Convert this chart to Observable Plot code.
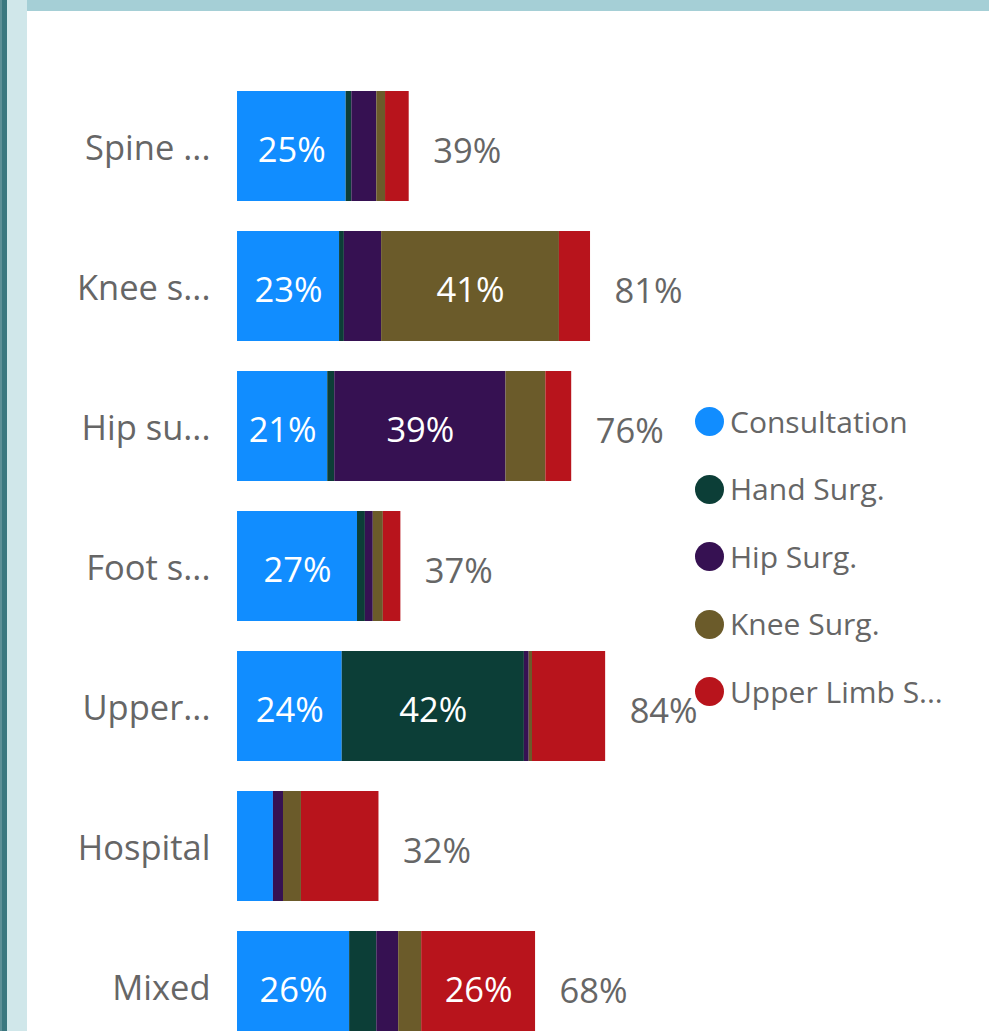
<!DOCTYPE html>
<html>
<head>
<meta charset="utf-8">
<script src="https://cdn.jsdelivr.net/npm/d3@7"></script>
<script src="https://cdn.jsdelivr.net/npm/@observablehq/plot@0.6"></script>
<style>
  html, body { margin: 0; padding: 0; background: #fff; overflow: hidden; }
  #page { position: relative; width: 989px; height: 1031px; overflow: hidden; font-family: "Open Sans", sans-serif; }
  #chart { position: absolute; left: 0; top: 0; }
  .deco { position: absolute; z-index: 2; }
  #legend { position: absolute; left: 695px; top: 0; z-index: 3; }
  .item { position: absolute; left: 0; height: 30px; display: flex; align-items: center; white-space: nowrap; }
  .dot { width: 29px; height: 29px; border-radius: 50%; flex: none; }
  .lab { margin-left: 6px; font-size: 30px; color: #666; line-height: 30px; }
</style>
</head>
<body>
<div id="page">
  <div id="chart"></div>
  <div class="deco" style="left:0;top:0;width:2px;height:1031px;background:#5d9097"></div>
  <div class="deco" style="left:2px;top:0;width:5px;height:1031px;background:#3b7880"></div>
  <div class="deco" style="left:7px;top:0;width:20px;height:1031px;background:#d0e7ea"></div>
  <div class="deco" style="left:27px;top:0;width:962px;height:11px;background:#a5cfd6"></div>
  <div id="legend"></div>
</div>
<script>
// Categories (as displayed, truncated)
const categories = ["Spine ...", "Knee s...", "Hip su...", "Foot s...", "Upper...", "Hospital", "Mixed"];
// Series names (legend labels as displayed)
const seriesNames = ["Consultation", "Hand Surg.", "Hip Surg.", "Knee Surg.", "Upper Limb S..."];
const seriesColors = ["#118DFF", "#0C3E37", "#361152", "#6B5B2A", "#B8141C"];
// Series values in percent, per category
const consultation = [24.8, 23.3, 20.6, 27.4, 23.9, 8.2, 25.6];
const handSurg     = [1.3, 1.1, 1.6, 1.8, 41.6, 0, 6.2];
const hipSurg      = [5.7, 8.5, 39.1, 1.8, 1.1, 2.3, 5.0];
const kneeSurg     = [2.0, 40.6, 9.1, 2.3, 0.75, 4.1, 5.25];
const upperLimb    = [5.4, 7.1, 5.9, 4.0, 16.7, 17.7, 26.0];

const seriesValues = [consultation, handSurg, hipSurg, kneeSurg, upperLimb];
const rows = [];
seriesNames.forEach((s, si) => {
  categories.forEach((c, ci) => rows.push({category: c, series: s, value: seriesValues[si][ci]}));
});
const totals = categories.map((c, ci) => ({category: c, total: d3.sum(seriesValues, v => v[ci])}));

const FS = 34.5;
const plot = Plot.plot({
  width: 989,
  height: 1031,
  marginLeft: 237,
  marginRight: 314,
  marginTop: 0,
  marginBottom: 0,
  style: {fontFamily: "Open Sans, sans-serif", fontSize: FS + "px", background: "white", overflow: "visible"},
  x: {domain: [0, 100], axis: null},
  y: {domain: categories, range: [61, 1071], padding: 0.2143, round: false, axis: null},
  color: {domain: seriesNames, range: seriesColors},
  marks: [
    Plot.barX(rows, Plot.stackX({x: "value", y: "category", fill: "series"})),
    Plot.text(rows, Plot.stackX({
      x: "value", y: "category", z: "series",
      text: d => d.value >= 20 ? Math.round(d.value) + "%" : null,
      fill: "white", fontSize: FS, dy: 4
    })),
    Plot.text(totals, {
      x: "total", y: "category",
      text: d => Math.round(d.total) + "%",
      textAnchor: "start", dx: 24, dy: 5, fill: "#666", fontSize: FS
    }),
    Plot.axisY({tickSize: 0, tickPadding: 27, color: "#666", fontSize: FS, dy: 2, label: null})
  ]
});
document.getElementById("chart").appendChild(plot);

const legend = document.getElementById("legend");
seriesNames.forEach((s, i) => {
  const item = document.createElement("div");
  item.className = "item";
  item.style.top = (421.7 + i * 67.5 - 15) + "px";
  const dot = document.createElement("div");
  dot.className = "dot";
  dot.style.background = seriesColors[i];
  const lab = document.createElement("span");
  lab.className = "lab";
  lab.textContent = s;
  item.appendChild(dot);
  item.appendChild(lab);
  legend.appendChild(item);
});
</script>
</body>
</html>
